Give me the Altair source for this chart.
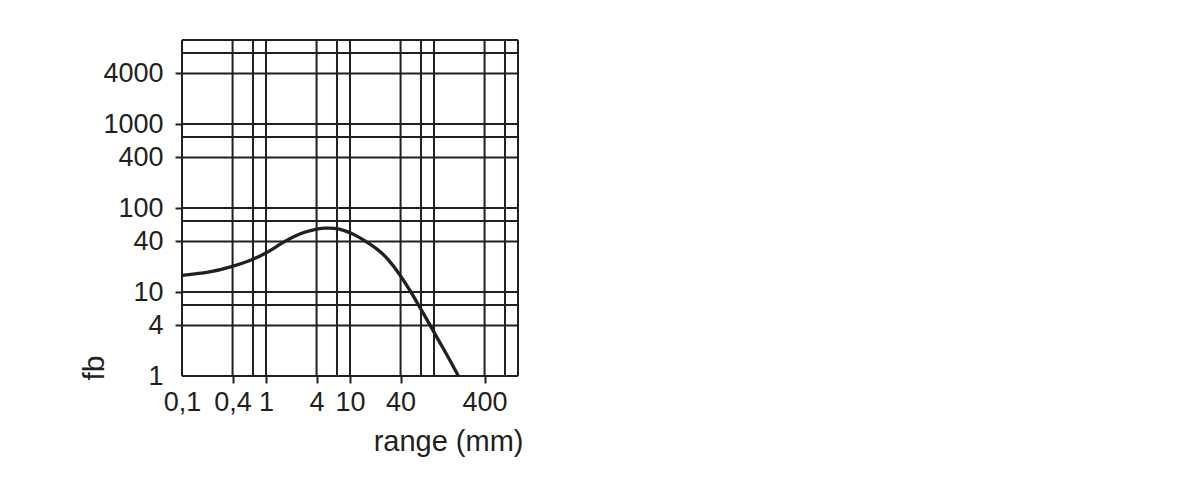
import altair as alt
import pandas as pd

# curve (range in mm, f_b)
range_mm = [0.1, 0.21, 0.38, 0.68, 0.97, 1.28, 1.68, 2.2, 2.88, 3.79, 4.97, 6.5, 8.56,
            11.2, 14.7, 22.2, 29.1, 38.2, 50.1, 65.8, 86.3, 113, 148, 195]
fb_vals  = [15.8, 17.0, 19.8, 24.0, 28.6, 33.8, 40.2, 46.4, 51.8, 55.7, 57.8, 57.8, 54.3,
            48.6, 41.3, 31.5, 24.0, 16.8, 11.0, 6.95, 4.32, 2.66, 1.68, 1.0]

x_grid = [0.1, 0.4, 0.7, 1, 4, 7, 10, 40, 70, 100, 400, 700, 1000]
y_grid = [1, 4, 7, 10, 40, 70, 100, 400, 700, 1000, 4000, 7000, 10000]
x_ticks = [0.1, 0.4, 1, 4, 10, 40, 400]
y_ticks = [1, 4, 10, 40, 100, 400, 1000, 4000]

INK = "#231f20"
FONT = "Liberation Sans"

curve = pd.DataFrame({"range": range_mm, "fb": fb_vals})
xg = pd.DataFrame({"v": x_grid})
yg = pd.DataFrame({"v": y_grid})

xscale = alt.Scale(type="log", domain=[0.1, 1000], nice=False)
yscale = alt.Scale(type="log", domain=[1, 10000], nice=False)

xaxis = alt.Axis(
    values=x_ticks, grid=False, domain=False,
    labelExpr="replace(toString(datum.value), '.', ',')",
    tickSize=7, tickWidth=2, tickColor=INK,
    tickOpacity={"condition": {"test": "datum.value == 0.1", "value": 0}, "value": 1},
    labelFont=FONT, labelFontSize=27, labelColor=INK, labelPadding=6,
    labelFlush=False, labelOverlap=False,
    title="range (mm)", titleFont=FONT, titleFontSize=29, titleFontWeight="normal",
    titleColor=INK, titleAnchor="end", titleAlign="right", titlePadding=12,
    titleX=341,
)
yaxis = alt.Axis(
    values=y_ticks, grid=False, domain=False,
    labelExpr="toString(datum.value)",
    tickSize=7, tickWidth=2, tickColor=INK,
    tickOpacity={"condition": {"test": "datum.value == 1", "value": 0}, "value": 1},
    labelFont=FONT, labelFontSize=27, labelColor=INK, labelPadding=12,
    labelFlush=False, labelOverlap=False,
    title="fb", titleFont=FONT, titleFontSize=30, titleFontWeight="normal",
    titleColor=INK, titleAngle=270, titleAnchor="start", titleAlign="left",
    titleBaseline="middle", titleX=-88, titleY=340,
)

vgrid = alt.Chart(xg).mark_rule(color=INK, strokeWidth=2).encode(
    x=alt.X("v:Q", scale=xscale, axis=xaxis)
)
hgrid = alt.Chart(yg).mark_rule(color=INK, strokeWidth=2).encode(
    y=alt.Y("v:Q", scale=yscale, axis=yaxis)
)
line = alt.Chart(curve).mark_line(color=INK, strokeWidth=3.3, interpolate="basis", clip=True).encode(
    x=alt.X("range:Q", scale=xscale),
    y=alt.Y("fb:Q", scale=yscale),
)

chart = alt.layer(vgrid, hgrid, line).properties(
    width=336, height=336,
    autosize=alt.AutoSizeParams(type="none"),
    padding={"left": 174, "top": 32, "right": 10, "bottom": 100},
).configure_view(stroke=None)

chart.save("out.html", embed_options={"renderer": "svg", "actions": False})
